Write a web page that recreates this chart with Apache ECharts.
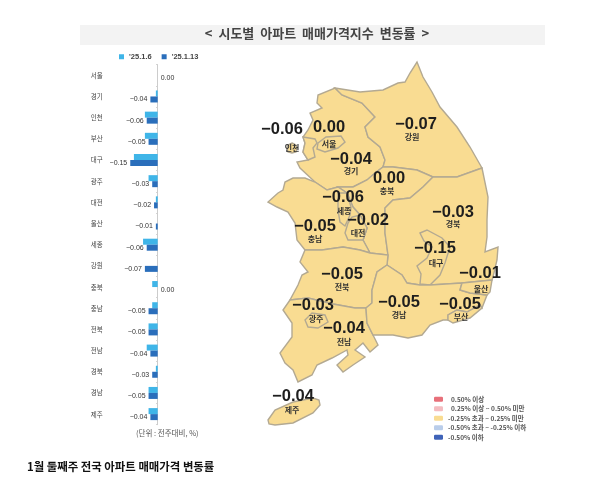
<![CDATA[<!DOCTYPE html>
<html><head><meta charset="utf-8">
<style>html,body{margin:0;padding:0;background:#fff}#c{width:600px;height:480px}</style>
<script src="https://cdn.jsdelivr.net/npm/echarts@6/dist/echarts.min.js"></script>
</head><body><div id="c"></div>
<script>
// ---- data ----
const barRegions = ['서울','경기','인천','부산','대구','광주','대전','울산','세종','강원','충북','충남','전북','전남','경북','경남','제주'];
const week1 = [0,-0.01,-0.07,-0.07,-0.13,-0.05,-0.01,0,-0.08,0,-0.03,-0.03,-0.05,-0.06,-0.01,-0.05,-0.05];
const week2 = [0,-0.04,-0.06,-0.05,-0.15,-0.03,-0.02,-0.01,-0.06,-0.07,0,-0.05,-0.05,-0.04,-0.03,-0.05,-0.04];
const seriesNames = ["'25.1.6","'25.1.13"];
const legendBands = ['0.50% 이상','0.25% 이상 ~ 0.50% 미만','-0.25% 초과 ~ 0.25% 미만','-0.50% 초과 ~ -0.25% 이하','-0.50% 이하'];
const bandColors = ['#e8707a','#f4bcc0','#f9dc92','#b9cdea','#3f63b8'];
const titleText = '<  시도별  아파트  매매가격지수  변동률  >';
const captionText = '1월 둘째주 전국 아파트 매매가격 변동률';
const unitText = '(단위 : 전주대비, %)';

// ---- map outline (image pixel space) ----
const outlines = {
 '경기':[[[335,88],[342,95],[362,103],[375,117],[365,127],[368,137],[380,147],[385,160],[383,167],[375,173],[367,180],[353,187],[338,187],[327,190],[315,182],[300,168],[297,162],[308,160],[303,152],[305,143],[303,137],[308,130],[313,120],[310,113],[322,108],[317,103],[318,95]]],
 '강원':[[[335,88],[360,92],[383,90],[398,83],[405,82],[410,73],[417,62],[423,77],[432,92],[440,107],[457,127],[470,147],[482,168],[457,177],[433,177],[417,170],[393,167],[383,167],[385,160],[380,147],[368,137],[365,127],[375,117],[362,103],[342,95]]],
 '인천':[[[303,137],[315,139],[317,143],[313,148],[315,157],[308,160],[303,152],[305,143]],[[292,143],[296,145],[297,148],[296,152],[292,153],[288,152],[287,148],[288,145]]],
 '서울':[[[318,143],[326,137],[341,136],[345,142],[338,148],[325,152],[317,149]]],
 '충북':[[[383,167],[393,167],[417,170],[433,177],[423,187],[410,198],[393,200],[385,208],[385,233],[388,255],[370,253],[363,240],[367,228],[360,215],[353,207],[347,193],[338,187],[353,187],[367,180],[375,173]]],
 '충남':[[[315,182],[327,190],[338,187],[347,193],[353,207],[360,215],[367,228],[363,240],[370,253],[360,250],[343,247],[322,250],[305,250],[297,240],[295,223],[288,212],[277,207],[268,202],[278,193],[283,190],[285,182],[293,178],[305,178]]],
 '세종':[[[338,193],[347,193],[351,207],[350,215],[345,226],[340,222],[338,210]]],
 '대전':[[[348,223],[352,217],[360,215],[367,228],[363,240],[348,240],[345,233]]],
 '경북':[[[482,168],[488,197],[487,220],[487,237],[485,252],[498,247],[497,260],[493,277],[492,280],[462,283],[430,285],[420,285],[407,283],[402,275],[387,265],[388,255],[385,233],[385,208],[393,200],[410,198],[423,187],[433,177],[457,177]]],
 '대구':[[[420,233],[427,230],[442,238],[450,247],[445,263],[440,275],[430,285],[420,284],[421,274],[417,266],[427,258],[432,247],[424,241]]],
 '전북':[[[305,250],[322,250],[343,247],[360,250],[370,253],[388,255],[387,265],[377,272],[372,290],[372,303],[366,308],[355,308],[333,304],[308,298],[290,300],[298,285],[302,275],[308,272],[300,262]]],
 '전남':[[[290,300],[308,298],[333,304],[355,308],[366,308],[367,323],[373,335],[378,345],[370,352],[363,343],[355,350],[365,357],[353,365],[343,372],[337,365],[348,355],[347,350],[332,358],[317,365],[312,375],[298,382],[293,370],[285,363],[280,353],[292,337],[292,323],[283,310]]],
 '광주':[[[305,320],[312,313],[325,315],[328,322],[318,328],[308,327]]],
 '경남':[[[387,265],[402,275],[407,283],[420,285],[430,285],[462,283],[460,290],[470,293],[487,295],[482,308],[480,305],[467,312],[457,310],[448,315],[448,320],[443,320],[430,325],[422,335],[408,338],[393,335],[385,335],[373,335],[367,323],[366,308],[372,303],[372,290],[377,272]]],
 '울산':[[[462,283],[492,280],[490,292],[487,295],[470,293],[460,290]]],
 '부산':[[[448,315],[457,310],[467,312],[480,305],[482,308],[470,318],[453,323],[448,320]]],
 '제주':[[[268,420],[275,410],[293,402],[313,398],[319,400],[320,405],[313,413],[293,423],[275,425],[269,424]]]
};
// label anchor of each value text: [x, y, gap to region name, name x shift]
const labelPlace = {
 '강원':[416,124,13,-4],'경기':[351,159,12,0],'인천':[282,129,19,10],'서울':[329,127,17,0],'충북':[389,178,13,-2],
 '충남':[315,226,13,0],'세종':[343,197,14,1],'대전':[368,220,13,-10],'경북':[453,212,12,0],'대구':[435,248,15,1],
 '전북':[342,274,13,0],'전남':[344,328,14,0],'광주':[313,305,14,3],'경남':[399,302,13,0],'울산':[480,273,16,1],
 '부산':[460,304,13,1],'제주':[293,396,14,-1]
};
const fmt = v => v === 0 ? '0.00' : '\u2212' + Math.abs(v).toFixed(2);
const vLine = 14;
const features = Object.keys(outlines).map(name => {
  const [x, y, gap] = labelPlace[name];
  const L = 2 * (gap - vLine / 2);
  return {type:'Feature', properties:{name, cp:[x, -(y + L / 2)]},
    geometry:{type:'MultiPolygon', coordinates: outlines[name].map(r => {
      const ring = r.map(p => [p[0], -p[1]]); ring.push(ring[0]); return [ring];
    })}};
});
echarts.registerMap('kr', {type:'FeatureCollection', features});

const week2Of = n => week2[barRegions.indexOf(n)];
const FONT = '"Liberation Sans","Noto Sans CJK KR",sans-serif';
const CJK = '"Noto Sans CJK KR",sans-serif';

const chart = echarts.init(document.getElementById('c'), null, {renderer:'canvas'});
chart.setOption({
  animation:false, backgroundColor:'#fff',
  graphic:[{type:'rect', z:-1, shape:{x:80,y:25,width:465,height:20}, style:{fill:'#f3f3f3'}}],
  title:[
    {text:titleText, left:312, top:22, textAlign:'center', textStyle:{fontFamily:CJK,fontSize:13,fontWeight:'bold',color:'#444'}},
    {text:captionText, left:22, top:456, textStyle:{fontFamily:CJK,fontSize:11.4,fontWeight:'bold',color:'#111'}},
    {text:unitText, left:131, top:424, textStyle:{fontFamily:CJK,fontSize:7.5,fontWeight:'normal',color:'#555'}}
  ],
  legend:{left:114, top:48, itemWidth:5, itemHeight:5, itemGap:10, icon:'rect', selectedMode:false,
    data:seriesNames, textStyle:{fontFamily:FONT,fontSize:7.5,fontWeight:'bold',color:'#444',padding:[0,0,0,0]}},
  grid:{left:102.8, width:73.2, top:64.7, height:360, containLabel:false},
  xAxis:{type:'value', min:-0.3, max:0.1, show:false},
  yAxis:{type:'category', inverse:true, data:barRegions,
    axisLine:{onZero:true, lineStyle:{color:'#ccc',width:1}},
    axisTick:{show:true, length:1.5, inside:false, lineStyle:{color:'#ccc'}},
    axisLabel:{margin:6, fontFamily:CJK, fontSize:6.5, color:'#444', align:'center'}},
  visualMap:{type:'piecewise', seriesIndex:2, left:419, top:381, align:'left', itemWidth:9, itemHeight:5, itemGap:3, textGap:5,
    hoverLink:false, selectedMode:false, orient:'vertical',
    textStyle:{fontFamily:CJK,fontSize:6.5,fontWeight:'bold',color:'#555'},
    pieces:[
      {min:0.5,label:'  '+legendBands[0],color:bandColors[0]},
      {min:0.25,lt:0.5,label:'  '+legendBands[1],color:bandColors[1]},
      {gt:-0.25,lt:0.25,label:legendBands[2],color:bandColors[2]},
      {gt:-0.5,lte:-0.25,label:legendBands[3],color:bandColors[3]},
      {lte:-0.5,label:legendBands[4],color:bandColors[4]}
    ]},
  series:[
    {name:seriesNames[0], type:'bar', data:week1, barWidth:6, barGap:'0%', silent:true, itemStyle:{color:'#3fb5e8'}},
    {name:seriesNames[1], type:'bar', data:week2.map(v => ({value:v, label:{position:v === 0 ? 'right' : 'left'}})),
      barWidth:6, silent:true, itemStyle:{color:'#2a6ebb'},
      label:{show:true, distance:3, fontFamily:FONT, fontSize:7, color:'#333', formatter:p => fmt(p.value)}},
    {type:'map', map:'kr', left:0, top:0, width:600, height:480, aspectScale:1, boundingCoords:[[0,0],[600,-480]],
      roam:false, silent:true, showLegendSymbol:false, emphasis:{disabled:true}, select:{disabled:true},
      itemStyle:{borderColor:'#b3a992', borderWidth:1.4},
      data:Object.keys(outlines).map(n => {
        const [,,gap,dx] = labelPlace[n];
        const L = 2 * (gap - vLine / 2);
        return {name:n, value:week2Of(n), label:{rich:{
          v:{fontFamily:FONT,fontSize:16.5,fontWeight:'bold',color:'#1e1e1e',lineHeight:vLine,align:'center'},
          n:{fontFamily:CJK,fontSize:8,fontWeight:'bold',color:'#333',lineHeight:L,align:'center',
             padding: dx > 0 ? [0,0,0,2*dx] : [0,-2*dx,0,0]}
        }}};
      }),
      label:{show:true, position:'inside', align:'center', verticalAlign:'middle', formatter:p => '{v|' + fmt(p.value) + '}\n{n|' + p.name + '}'}
    }
  ]
});
</script></body></html>]]>
